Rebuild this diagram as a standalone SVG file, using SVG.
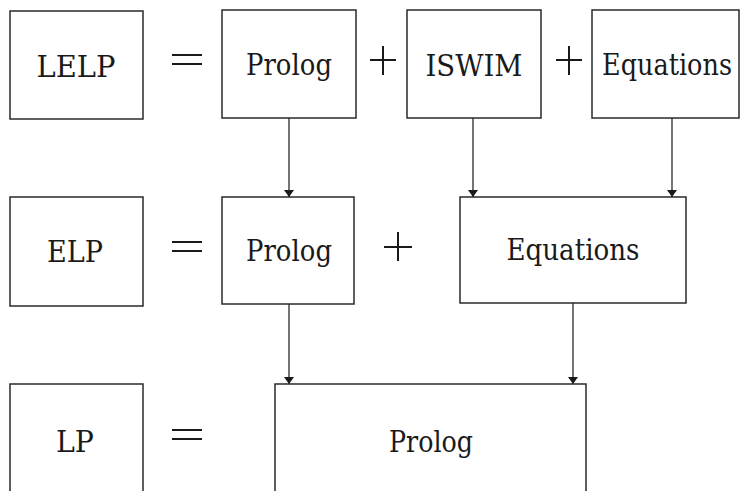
<svg xmlns="http://www.w3.org/2000/svg" width="743" height="491" viewBox="0 0 743 491">
<style>
.box{fill:none;stroke:#2a2a2a;stroke-width:1.5}
.lbl{font-family:"DejaVu Serif","Liberation Serif",serif;font-size:30px;fill:#1a1a1a;text-anchor:middle}
.op{stroke:#1a1a1a;stroke-width:2;fill:none}
.con{stroke:#2a2a2a;stroke-width:1.3;fill:none;marker-end:url(#ah)}
</style>
<defs>
<marker id="ah" viewBox="0 0 7 10" refX="7" refY="5" markerWidth="7" markerHeight="10" markerUnits="userSpaceOnUse" orient="auto">
<path d="M0,0 L7,5 L0,10 Z" fill="#1a1a1a"/>
</marker>
</defs>
<rect width="743" height="491" fill="#fff"/>
<g id="LELP"><rect class="box" x="10" y="11" width="133" height="108"/><text class="lbl" x="76" y="77" textLength="79" lengthAdjust="spacingAndGlyphs">LELP</text></g>
<g id="Prolog1"><rect class="box" x="222" y="10" width="134" height="108"/><text class="lbl" x="289" y="75" textLength="86" lengthAdjust="spacingAndGlyphs">Prolog</text></g>
<g id="ISWIM"><rect class="box" x="407" y="10" width="134" height="108"/><text class="lbl" x="474" y="76" textLength="97" lengthAdjust="spacingAndGlyphs">ISWIM</text></g>
<g id="Equations1"><rect class="box" x="592" y="10" width="147" height="108"/><text class="lbl" x="667" y="75" font-size="27" textLength="130" lengthAdjust="spacingAndGlyphs">Equations</text></g>
<g id="ELP"><rect class="box" x="10" y="197" width="133" height="109"/><text class="lbl" x="75" y="262" textLength="56" lengthAdjust="spacingAndGlyphs">ELP</text></g>
<g id="Prolog2"><rect class="box" x="222" y="197" width="132" height="107"/><text class="lbl" x="289" y="261" textLength="86" lengthAdjust="spacingAndGlyphs">Prolog</text></g>
<g id="Equations2"><rect class="box" x="460" y="197" width="226" height="106"/><text class="lbl" x="573" y="260" textLength="133" lengthAdjust="spacingAndGlyphs">Equations</text></g>
<g id="LP"><rect class="box" x="10" y="384" width="133" height="130"/><text class="lbl" x="75" y="452" textLength="38" lengthAdjust="spacingAndGlyphs">LP</text></g>
<g id="Prolog3"><rect class="box" x="275" y="384" width="311" height="130"/><text class="lbl" x="431" y="452" textLength="84" lengthAdjust="spacingAndGlyphs">Prolog</text></g>
<g id="operators">
<path class="op" d="M172,55H202M172,64H202"/>
<path class="op" d="M370,60H396M383,46V75"/>
<path class="op" d="M556,60H582M569,46V75"/>
<path class="op" d="M172,242H202M172,251H202"/>
<path class="op" d="M384,247H412M398,232V261"/>
<path class="op" d="M172,430H202M172,439H202"/>
</g>
<g id="connectors">
<path class="con" d="M289,118V197"/>
<path class="con" d="M473,118V197"/>
<path class="con" d="M672,118V197"/>
<path class="con" d="M289,304V384"/>
<path class="con" d="M573,303V384"/>
</g>
</svg>
